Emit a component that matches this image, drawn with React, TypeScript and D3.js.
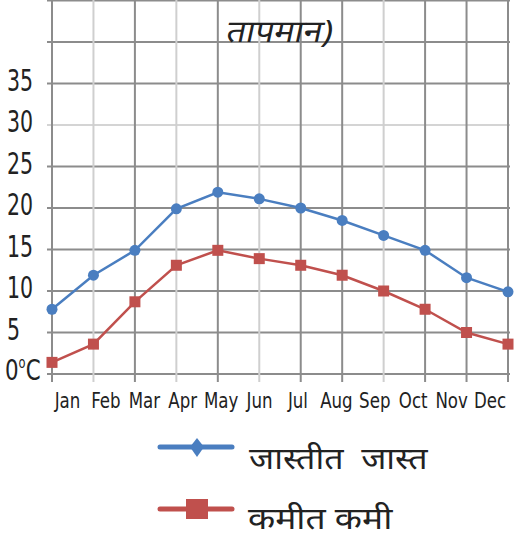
import React from "react";
import * as d3 from "d3";

const months = ["Jan","Feb","Mar","Apr","May","Jun","Jul","Aug","Sep","Oct","Nov","Dec"];
const maxTemp = [7.8, 11.9, 14.9, 19.9, 21.9, 21.1, 20.0, 18.5, 16.7, 14.9, 11.6, 9.9];
const minTemp = [1.4, 3.6, 8.7, 13.1, 14.9, 13.9, 13.1, 11.9, 10.0, 7.8, 5.0, 3.6];
const yTicks = [0, 5, 10, 15, 20, 25, 30, 35];
const gridLevels = [0, 5, 10, 15, 20, 25, 30, 35, 40, 45];
const seriesNames = ["जास्तीत  जास्त", "कमीत कमी"];
const titleText = "तापमान)";

const BLUE = "#4a7ec0";
const RED = "#c0504d";
const lightV = new Set([1, 3, 5, 8]);
const lightH = new Set([30]);

export default function App() {
  const x = d3.scalePoint<string>().domain(months).range([52, 508]);
  const xLab = d3.scalePoint<string>().domain(months).range([67.5, 490]);
  const y = d3.scaleLinear().domain([0, 45]).range([374, 0.5]);
  const line = d3.line<number>().x((_, i) => x(months[i])!).y((d) => y(d));
  const font = "'DejaVu Sans Condensed', 'DejaVu Sans', sans-serif";
  const deva = "'Noto Sans', sans-serif";

  return (
    <svg width={518} height={538} style={{ position: "absolute", left: 0, top: 0, background: "#fff" }}>
      {gridLevels.map((v) => (
        <line key={"h" + v} x1={47} x2={510} y1={y(v)} y2={y(v)}
          stroke={lightH.has(v) ? "#d4d4d4" : "#8c8c8c"} strokeWidth={2} />
      ))}
      {months.map((m, i) => (
        <line key={"v" + m} x1={x(m)} x2={x(m)} y1={0} y2={382}
          stroke={lightV.has(i) ? "#cfcfcf" : "#8c8c8c"} strokeWidth={2} />
      ))}
      <text transform="translate(225,42) skewX(-12) scale(1.1,1)" fontFamily={deva} fontSize={31} fill="#222">{titleText}</text>
      {yTicks.filter((v) => v > 0).map((v) => (
        <text key={"yt" + v} transform={`translate(7,${y(v) + 7}) scale(0.76,1)`} fontFamily={font} fontSize={30} fill="#222">{v}</text>
      ))}
      <text transform={`translate(5,${y(0) + 6}) scale(0.85,1)`} fontFamily={font} fontSize={28} fill="#222">
        0<tspan fontSize={15} dy={-12}>o</tspan><tspan dy={12}>C</tspan>
      </text>
      {months.map((m) => (
        <text key={"xt" + m} transform={`translate(${xLab(m)},408) scale(0.88,1)`} textAnchor="middle" fontFamily={font} fontSize={21} fill="#222">{m}</text>
      ))}
      <path d={line(maxTemp)!} fill="none" stroke={BLUE} strokeWidth={2.5} />
      {maxTemp.map((v, i) => (
        <circle key={"b" + i} cx={x(months[i])} cy={y(v)} r={5.5} fill={BLUE} />
      ))}
      <path d={line(minTemp)!} fill="none" stroke={RED} strokeWidth={2.5} />
      {minTemp.map((v, i) => (
        <rect key={"r" + i} x={x(months[i])! - 5.5} y={y(v) - 5.5} width={11} height={11} fill={RED} />
      ))}
      <line x1={160} x2={232} y1={447} y2={447} stroke={BLUE} strokeWidth={5} strokeLinecap="round" />
      <path d="M197,438 L204,447 L197,457 L190,447 Z" fill={BLUE} />
      <text transform="translate(249,469) scale(1.13,1)" fontFamily={deva} fontSize={30} fill="#222" style={{ whiteSpace: "pre" }}>{seriesNames[0]}</text>
      <line x1={160} x2={232} y1={509} y2={509} stroke={RED} strokeWidth={5} strokeLinecap="round" />
      <rect x={186} y={499} width={22} height={20} fill={RED} />
      <text transform="translate(248,529) scale(1.18,1)" fontFamily={deva} fontSize={30} fill="#222">{seriesNames[1]}</text>
    </svg>
  );
}
